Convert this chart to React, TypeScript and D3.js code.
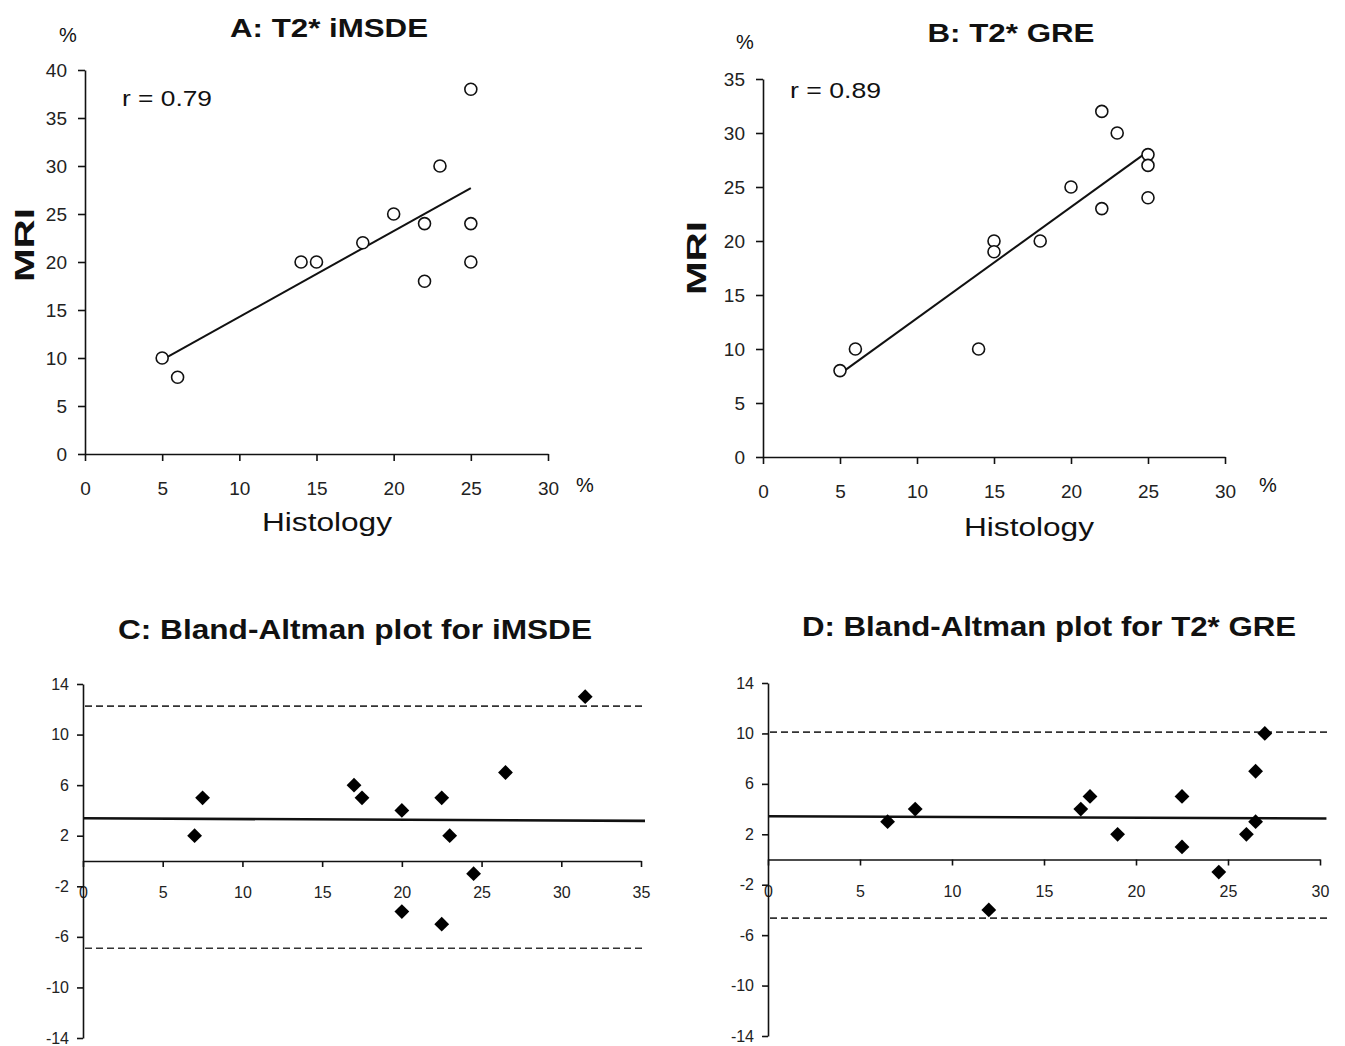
import React, { useEffect, useRef } from 'react';
import * as d3 from 'd3';

// A: T2* iMSDE vs histology
const histA = [5, 6, 14, 15, 18, 20, 22, 22, 23, 25, 25, 25];
const mriA = [10, 8, 20, 20, 22, 25, 24, 18, 30, 38, 24, 20];
const fitA = [[5, 9.8], [25, 27.7]];

// B: T2* GRE vs histology
const histB = [5, 6, 14, 15, 15, 18, 20, 22, 22, 23, 25, 25, 25];
const mriB = [8, 10, 10, 20, 19, 20, 25, 32, 23, 30, 28, 27, 24];
const fitB = [[5, 7.7], [25, 28.3]];

// C: Bland-Altman iMSDE
const meanC = [7, 7.5, 17, 17.5, 20, 20, 22.5, 22.5, 23, 24.5, 26.5, 31.5];
const diffC = [2, 5, 6, 5, 4, -4, 5, -5, 2, -1, 7, 13];
const biasC = [[0, 3.38], [35.25, 3.17]];
const limitsC = [12.25, -6.9];

// D: Bland-Altman T2* GRE
const meanD = [6.5, 8, 12, 17, 17.5, 19, 22.5, 22.5, 24.5, 26, 26.5, 26.5, 27];
const diffD = [3, 4, -4, 4, 5, 2, 5, 1, -1, 2, 7, 3, 10];
const biasD = [[0, 3.43], [30.35, 3.25]];
const limitsD = [10.1, -4.65];

const ticksAX = [0, 5, 10, 15, 20, 25, 30];
const ticksAY = [0, 5, 10, 15, 20, 25, 30, 35, 40];
const ticksBY = [0, 5, 10, 15, 20, 25, 30, 35];
const ticksCX = [0, 5, 10, 15, 20, 25, 30, 35];
const ticksDX = [0, 5, 10, 15, 20, 25, 30];
const ticksBAY = [-14, -10, -6, -2, 2, 6, 10, 14];

const SANS = "'Liberation Sans', Arial, sans-serif";

export default function App() {
  const ref = useRef<SVGSVGElement>(null);

  useEffect(() => {
    const svg = d3.select(ref.current);
    svg.selectAll('*').remove();

    const text = (x, y, str, size, opts: any = {}) => {
      const t = svg.append('text')
        .attr('x', x).attr('y', y)
        .attr('font-family', SANS)
        .attr('font-size', size)
        .attr('font-weight', opts.bold ? 'bold' : 'normal')
        .attr('text-anchor', opts.anchor || 'middle')
        .attr('fill', '#111')
        .text(str);
      if (opts.len) t.attr('textLength', opts.len).attr('lengthAdjust', 'spacingAndGlyphs');
      if (opts.rotate) t.attr('transform', `rotate(-90,${x},${y})`);
      return t;
    };

    const styleAxis = (g, size) => {
      g.attr('font-size', size).attr('font-family', SANS);
      g.select('.domain').attr('stroke', '#111').attr('stroke-width', 1.6);
      g.selectAll('.tick line').attr('stroke', '#111').attr('stroke-width', 1.6);
      g.selectAll('.tick text')
        .attr('font-family', SANS)
        .attr('font-size', size)
        .attr('fill', '#222');
    };

    const fmt = d => String(d);

    const scatter = (cfg) => {
      const x = d3.scaleLinear().domain([0, 30]).range(cfg.xr);
      const y = d3.scaleLinear().domain(cfg.yd).range(cfg.yr);

      const gx = svg.append('g')
        .attr('transform', `translate(0,${cfg.yr[0]})`)
        .call(d3.axisBottom(x).tickValues(ticksAX).tickFormat(fmt).tickSize(7).tickSizeOuter(0).tickPadding(21));
      styleAxis(gx, 19);
      const gy = svg.append('g')
        .attr('transform', `translate(${cfg.xr[0]},0)`)
        .call(d3.axisLeft(y).tickValues(cfg.yt).tickFormat(fmt).tickSize(7).tickSizeOuter(0).tickPadding(11));
      styleAxis(gy, 19);

      svg.append('path')
        .attr('d', d3.line().x(d => x(d[0])).y(d => y(d[1]))(cfg.fit))
        .attr('fill', 'none').attr('stroke', '#111').attr('stroke-width', 2);

      svg.append('g').selectAll('circle')
        .data(cfg.xs.map((v, i) => [v, cfg.ys[i]]))
        .join('circle')
        .attr('cx', d => x(d[0])).attr('cy', d => y(d[1]))
        .attr('r', 6)
        .attr('fill', 'white').attr('stroke', '#111').attr('stroke-width', 1.6);
    };

    const blandAltman = (cfg) => {
      const x = d3.scaleLinear().domain([0, cfg.xmax]).range(cfg.xr);
      const y = d3.scaleLinear().domain([-14, 14]).range(cfg.yr);

      cfg.limits.forEach(v => {
        svg.append('line')
          .attr('x1', cfg.xr[0] + 2).attr('x2', x(cfg.xEnd))
          .attr('y1', y(v)).attr('y2', y(v))
          .attr('stroke', '#333').attr('stroke-width', 1.6)
          .attr('stroke-dasharray', '7,4');
      });

      const gx = svg.append('g')
        .attr('transform', `translate(0,${y(0)})`)
        .call(d3.axisBottom(x).tickValues(cfg.xt).tickFormat(fmt).tickSize(6).tickSizeOuter(0).tickPadding(20));
      styleAxis(gx, 16);
      const gy = svg.append('g')
        .attr('transform', `translate(${cfg.xr[0]},0)`)
        .call(d3.axisLeft(y).tickValues(ticksBAY).tickFormat(fmt).tickSize(6).tickSizeOuter(0).tickPadding(8));
      styleAxis(gy, 16);

      svg.append('path')
        .attr('d', d3.line().x(d => x(d[0])).y(d => y(d[1]))(cfg.bias))
        .attr('fill', 'none').attr('stroke', '#111').attr('stroke-width', 2.6);

      const diamond = d3.symbol().type(d3.symbolDiamond2).size(140);
      svg.append('g').selectAll('path')
        .data(cfg.xs.map((v, i) => [v, cfg.ys[i]]))
        .join('path')
        .attr('d', diamond)
        .attr('transform', d => `translate(${x(d[0])},${y(d[1])})`)
        .attr('fill', '#000');
    };

    // Panel A
    scatter({ xr: [85, 548], yd: [0, 40], yr: [454, 70], yt: ticksAY, xs: histA, ys: mriA, fit: fitA });
    text(329, 37, 'A: T2* iMSDE', 25, { bold: true, len: 198 });
    text(68, 42, '%', 20);
    text(585, 492, '%', 20);
    text(327, 531, 'Histology', 26, { len: 130 });
    text(34, 245, 'MRI', 27, { bold: true, rotate: true, len: 74 });
    text(122, 106, 'r = 0.79', 22, { anchor: 'start', len: 90 });

    // Panel B
    scatter({ xr: [763, 1225], yd: [0, 35], yr: [457, 79], yt: ticksBY, xs: histB, ys: mriB, fit: fitB });
    text(1011, 42, 'B: T2* GRE', 25, { bold: true, len: 167 });
    text(745, 49, '%', 20);
    text(1268, 492, '%', 20);
    text(1029, 536, 'Histology', 26, { len: 130 });
    text(706, 258, 'MRI', 27, { bold: true, rotate: true, len: 74 });
    text(790, 98, 'r = 0.89', 22, { anchor: 'start', len: 91 });

    // Panel C
    blandAltman({ xmax: 35, xr: [83, 641], yr: [1038, 684], xt: ticksCX, xEnd: 35.25,
      xs: meanC, ys: diffC, bias: biasC, limits: limitsC });
    text(355, 639, 'C: Bland-Altman plot for iMSDE', 28, { bold: true, len: 474 });

    // Panel D
    blandAltman({ xmax: 30, xr: [768, 1320], yr: [1036, 683], xt: ticksDX, xEnd: 30.4,
      xs: meanD, ys: diffD, bias: biasD, limits: limitsD });
    text(1049, 636, 'D: Bland-Altman plot for T2* GRE', 28, { bold: true, len: 494 });
  }, []);

  return (
    <svg ref={ref} width={1345} height={1046}
      style={{ position: 'absolute', left: 0, top: 0, background: 'white' }} />
  );
}
